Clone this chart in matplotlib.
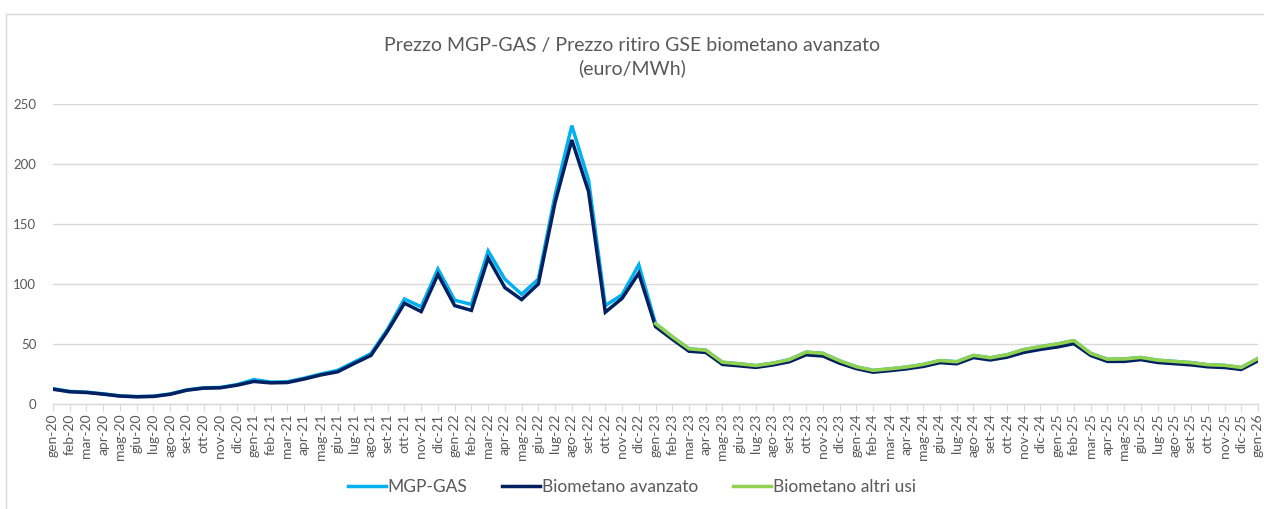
import matplotlib
matplotlib.use("Agg")
import matplotlib.pyplot as plt
import numpy as np
from matplotlib.patches import Rectangle

MONTHS = ["gen", "feb", "mar", "apr", "mag", "giu", "lug", "ago", "set", "ott", "nov", "dic"]
LABELS = [f"{m}-{y}" for y in range(20, 26) for m in MONTHS] + ["gen-26"]

# prices, euro/MWh, gen-20 .. gen-26
BIO_AVANZATO = [
    12.3, 10.2, 9.6, 8.2, 6.6, 6.0, 6.3, 8.1, 11.5, 13.2, 13.5, 15.7,
    18.8, 17.6, 17.9, 20.8, 24.2, 26.8, 33.8, 40.5, 61.0, 84.0, 77.0, 108.0,
    82.0, 78.0, 121.5, 97.0, 87.0, 100.0, 168.0, 220.0, 177.0, 76.5, 88.0, 109.0,
    64.5, 54.0, 44.0, 43.0, 33.0, 31.8, 30.5, 32.5, 35.2, 41.0, 40.0, 34.0,
    29.5, 26.5, 27.8, 29.3, 31.3, 34.5, 33.5, 38.7, 36.7, 39.0, 43.0, 45.5,
    47.5, 50.3, 40.5, 35.5, 35.5, 37.0, 34.6, 33.6, 32.6, 31.0, 30.4, 28.8,
    36.0,
]
MGP_GAS = [
    12.8, 10.5, 9.9, 8.5, 6.8, 6.2, 6.5, 8.4, 11.8, 13.5, 13.8, 16.2,
    20.3, 18.3, 18.5, 21.5, 25.0, 28.0, 35.0, 42.0, 62.5, 87.5, 81.0, 112.5,
    86.5, 83.0, 127.5, 104.0, 91.5, 104.0, 174.0, 232.0, 186.5, 82.0, 91.0, 116.0,
    67.0, 56.0, 46.0, 44.8, 34.8, 33.5, 32.0, 34.0, 37.0, 43.2, 42.2, 36.0,
    31.0, 28.0, 29.3, 30.8, 33.0, 36.2, 35.2, 40.5, 38.5, 41.0, 45.3, 47.8,
    50.0, 52.8, 42.2, 37.3, 37.5, 38.8, 36.5, 35.5, 34.5, 32.7, 32.2, 30.4,
    37.9,
]
# only from gen-23 onwards
BIO_ALTRI_USI = [np.nan] * 36 + MGP_GAS[36:]

GREY = "#595959"
plt.rcParams["font.family"] = ["Lato", "DejaVu Sans"]

fig = plt.figure(figsize=(12.64, 5.09), dpi=100)
fig.patches.append(Rectangle((6 / 1264, -0.01), 1.02, 1 - 14 / 509 + 0.01, transform=fig.transFigure,
                             fill=False, edgecolor="#D9D9D9", linewidth=1.0))
ax = fig.add_axes([53 / 1264, 1 - 404 / 509, (1258 - 53) / 1264, 300 / 509])

x = np.arange(len(LABELS))
ax.plot(x, MGP_GAS, color="#00B0F0", linewidth=2.5, label="MGP-GAS", solid_joinstyle="miter")
ax.plot(x, BIO_AVANZATO, color="#002060", linewidth=2.5, label="Biometano avanzato", solid_joinstyle="miter")
ax.plot(x, BIO_ALTRI_USI, color="#92D050", linewidth=2.5, label="Biometano altri usi", solid_joinstyle="miter")

ax.set_xlim(0, len(LABELS) - 1)
ax.set_ylim(0, 250)
ax.set_yticks(range(0, 251, 50))
ax.grid(axis="y", color="#D9D9D9", linewidth=1.0)
ax.set_axisbelow(True)
for side in ["top", "right", "left"]:
    ax.spines[side].set_visible(False)
ax.spines["bottom"].set_color("#D9D9D9")
ax.spines["bottom"].set_linewidth(1.0)
ax.set_xticks(x)
ax.set_xticklabels(LABELS, rotation=90, fontsize=10, color=GREY)
ax.tick_params(axis="x", length=5, color="#D9D9D9", pad=2)
ax.tick_params(axis="y", length=0, labelsize=9.5, labelcolor=GREY, pad=12)

fig.text(0.5, 1 - 57 / 509, "Prezzo MGP-GAS / Prezzo ritiro GSE biometano avanzato\n(euro/MWh)",
         ha="center", va="center", fontsize=14, color=GREY, linespacing=1.4)

fig.legend(loc="center", bbox_to_anchor=(0.5, 1 - 487 / 509), ncol=3, frameon=False,
           fontsize=12.5, labelcolor=GREY, handlelength=2.2, handletextpad=0.1, columnspacing=2.0)

fig.savefig("out.png", dpi=100, facecolor="white")
